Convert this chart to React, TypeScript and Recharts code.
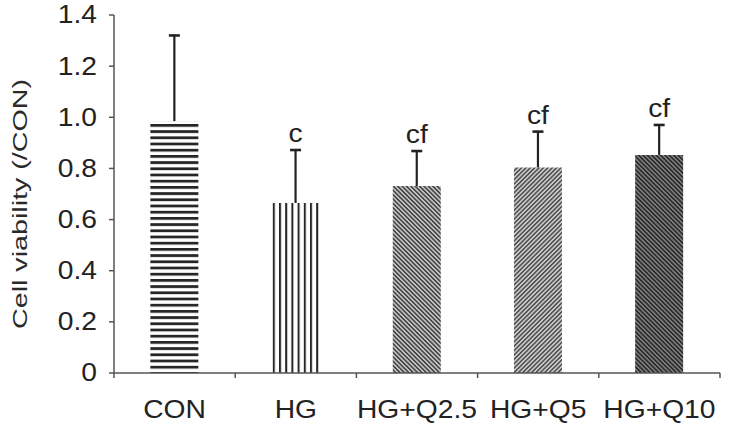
import React from 'react';
import { BarChart, Bar, XAxis, YAxis, Cell, LabelList, Label } from 'recharts';

const categories = ['CON', 'HG', 'HG+Q2.5', 'HG+Q5', 'HG+Q10'];
const means = [0.985, 0.665, 0.731, 0.804, 0.853];
const sdUpper = [0.335, 0.207, 0.137, 0.14, 0.117];
const marks = ['', 'c', 'cf', 'cf', 'cf'];
const yTicks = [0, 0.2, 0.4, 0.6, 0.8, 1.0, 1.2, 1.4];
const patternIds = ['pCon', 'pHg', 'pQ25', 'pQ5', 'pQ10'];

const data = categories.map((name, i) => ({ name, mean: means[i], err: sdUpper[i], mark: marks[i] }));

const FONT = '"Liberation Sans", Arial, sans-serif';
const INK = '#222';
const AXIS = '#555';
const FS = 25;
const SX = 1.13;

const ErrShape = (props: any) => {
  const { x, y, width, height } = props;
  const cx = x + width / 2;
  return (
    <g>
      <line x1={cx} x2={cx} y1={y + height} y2={y} stroke={INK} strokeWidth={2.2} />
      <line x1={cx - 5.5} x2={cx + 5.5} y1={y} y2={y} stroke={INK} strokeWidth={2.6} />
    </g>
  );
};

const WideText = ({ x, y, anchor, baseline, children }: any) => (
  <g transform={`translate(${x},${y}) scale(${SX},1)`}>
    <text x={0} y={0} textAnchor={anchor} dominantBaseline={baseline} fontFamily={FONT} fontSize={FS} fill={INK}>
      {children}
    </text>
  </g>
);

const XTick = (props: any) => {
  const { x, y, payload, index, visibleTicksCount } = props;
  const half = payload && typeof payload.offset === 'number' ? payload.offset : 0;
  const isLast = index === visibleTicksCount - 1;
  return (
    <g>
      {half > 0 && <line x1={x - half} x2={x - half} y1={y} y2={y + 5} stroke={AXIS} strokeWidth={1.5} />}
      {half > 0 && isLast && <line x1={x + half} x2={x + half} y1={y} y2={y + 5} stroke={AXIS} strokeWidth={1.5} />}
      <WideText x={x} y={y + 45} anchor="middle" baseline="auto">
        {payload.value}
      </WideText>
    </g>
  );
};

const YTick = (props: any) => {
  const { x, y, payload } = props;
  const v = payload.value as number;
  return (
    <WideText x={x} y={y} anchor="end" baseline="central">
      {v === 0 ? '0' : v.toFixed(1)}
    </WideText>
  );
};

const MarkLabel = (props: any) => {
  const { x, y, width, value } = props;
  if (!value) return null;
  return (
    <WideText x={x + width / 2} y={y - 8} anchor="middle" baseline="auto">
      {value}
    </WideText>
  );
};

const YLabel = (props: any) => {
  const { viewBox } = props;
  const cy = viewBox.y + viewBox.height / 2 + 10;
  const cx = 19;
  return (
    <text
      x={cx}
      y={cy}
      transform={`rotate(-90, ${cx}, ${cy})`}
      textAnchor="middle"
      dominantBaseline="central"
      fontFamily={FONT}
      fontSize={21}
      fill="#2a2a2a"
      textLength={250}
      lengthAdjust="spacingAndGlyphs"
    >
      Cell viability (/CON)
    </text>
  );
};

export default function App() {
  return (
    <div style={{ position: 'absolute', left: 0, top: 0, width: 729, height: 429, background: '#fff' }}>
      <BarChart
        width={729}
        height={429}
        data={data}
        margin={{ top: 15, right: 9, bottom: 0, left: 0 }}
        barCategoryGap="30%"
      >
        <defs>
          <pattern id="pCon" patternUnits="userSpaceOnUse" width={10} height={6.2}>
            <rect x={0} y={0} width={10} height={6.2} fill="#fff" />
            <rect x={0} y={0} width={10} height={2.8} fill="#262626" />
          </pattern>
          <pattern id="pHg" patternUnits="userSpaceOnUse" width={6.2} height={10}>
            <rect x={0} y={0} width={6.2} height={10} fill="#fff" />
            <rect x={0} y={0} width={2} height={10} fill="#262626" />
          </pattern>
          <pattern id="pQ25" patternUnits="userSpaceOnUse" width={3.1} height={10} patternTransform="rotate(-45)">
            <rect x={0} y={0} width={3.1} height={10} fill="#c4c4c4" />
            <rect x={0} y={0} width={1.5} height={10} fill="#404040" />
          </pattern>
          <pattern id="pQ5" patternUnits="userSpaceOnUse" width={3.1} height={10} patternTransform="rotate(45)">
            <rect x={0} y={0} width={3.1} height={10} fill="#cacaca" />
            <rect x={0} y={0} width={1.4} height={10} fill="#454545" />
          </pattern>
          <pattern id="pQ10" patternUnits="userSpaceOnUse" width={3.1} height={10} patternTransform="rotate(-45)">
            <rect x={0} y={0} width={3.1} height={10} fill="#858585" />
            <rect x={0} y={0} width={1.7} height={10} fill="#2a2a2a" />
          </pattern>
        </defs>
        <XAxis
          dataKey="name"
          height={56}
          tickSize={0}
          tickMargin={0}
          tickLine={false}
          axisLine={{ stroke: AXIS, strokeWidth: 1.5 }}
          tick={<XTick />}
          interval={0}
        />
        <YAxis
          width={114}
          domain={[0, 1.4]}
          ticks={yTicks}
          allowDataOverflow
          tickSize={5}
          tickMargin={12}
          tickLine={{ stroke: AXIS, strokeWidth: 1.5 }}
          axisLine={{ stroke: AXIS, strokeWidth: 1.5 }}
          tick={<YTick />}
        >
          <Label content={<YLabel />} />
        </YAxis>
        <Bar dataKey="mean" stackId="s" isAnimationActive={false}>
          {data.map((d, i) => (
            <Cell key={d.name} fill={`url(#${patternIds[i]})`} />
          ))}
        </Bar>
        <Bar dataKey="err" stackId="s" isAnimationActive={false} shape={<ErrShape />}>
          <LabelList dataKey="mark" content={<MarkLabel />} />
        </Bar>
      </BarChart>
    </div>
  );
}
